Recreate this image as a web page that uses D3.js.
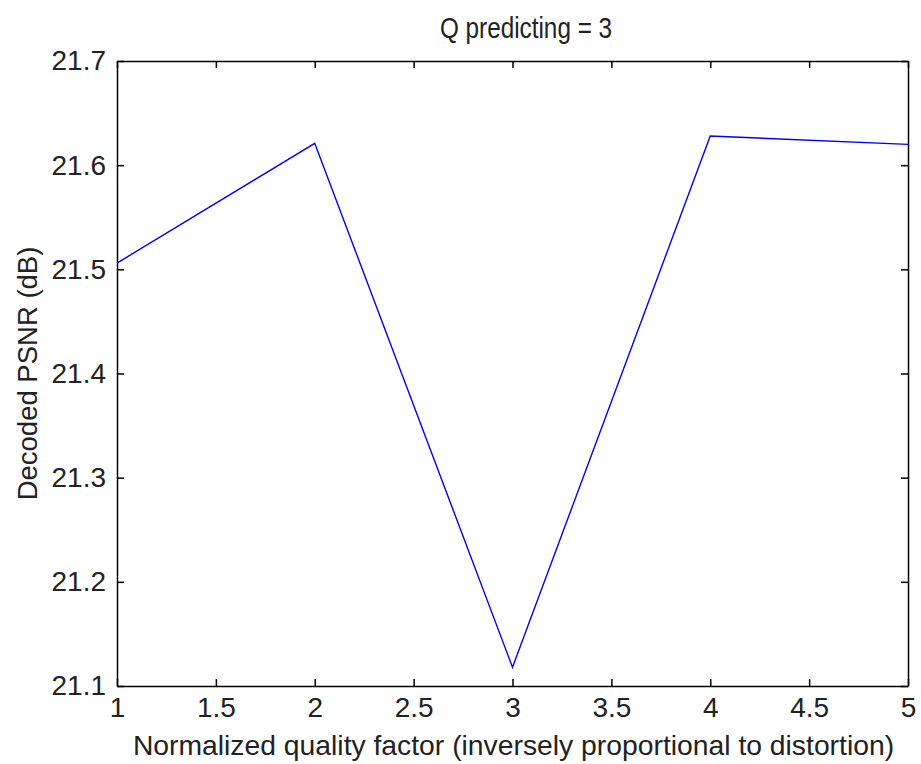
<!DOCTYPE html>
<html><head><meta charset="utf-8">
<script src="https://cdn.jsdelivr.net/npm/d3@7"></script>
<style>body{margin:0;background:#fff;} text{font-family:"Liberation Sans",Arial,sans-serif;}</style>
</head><body>
<svg id="c" width="921" height="764"></svg>
<script>
const xValues = [1, 2, 3, 4, 5];
const psnr = [21.506, 21.621, 21.118, 21.628, 21.620];
const xTicks = [1, 1.5, 2, 2.5, 3, 3.5, 4, 4.5, 5];
const yTicks = [21.1, 21.2, 21.3, 21.4, 21.5, 21.6, 21.7];
const titleText = "Q predicting = 3";
const xLabel = "Normalized quality factor (inversely proportional to distortion)";
const yLabel = "Decoded PSNR (dB)";

const svg = d3.select("#c");
svg.append("rect").attr("width",921).attr("height",764).attr("fill","#fff");
const L=117, R=908, T=61, B=686;
const x = d3.scaleLinear().domain([1,5]).range([L,R]);
const y = d3.scaleLinear().domain([21.1,21.7]).range([B,T]);
const tl = 7;
const fmtY = d => d3.format(".1f")(d);
const fmtX = d => String(d);
const FS = "28px";

const gb = svg.append("g").attr("transform",`translate(0,${B})`)
  .call(d3.axisBottom(x).tickValues(xTicks).tickFormat(fmtX).tickSizeInner(-tl).tickSizeOuter(0).tickPadding(11));
const gt = svg.append("g").attr("transform",`translate(0,${T})`)
  .call(d3.axisTop(x).tickValues(xTicks).tickFormat("").tickSizeInner(-tl).tickSizeOuter(0));
const gl = svg.append("g").attr("transform",`translate(${L},0)`)
  .call(d3.axisLeft(y).tickValues(yTicks).tickFormat(fmtY).tickSizeInner(-tl).tickSizeOuter(0).tickPadding(11));
const gr = svg.append("g").attr("transform",`translate(${R},0)`)
  .call(d3.axisRight(y).tickValues(yTicks).tickFormat("").tickSizeInner(-tl).tickSizeOuter(0));
[gb,gt,gl,gr].forEach(g=>{
  g.selectAll("path").attr("stroke","#000").attr("stroke-width",1.5);
  g.selectAll("line").attr("stroke","#000").attr("stroke-width",1.5);
  g.selectAll("text").attr("fill","#222").style("font-size",FS).style("font-family","'Liberation Sans',Arial,sans-serif");
});

svg.append("path").datum(xValues.map((v,i)=>[v,psnr[i]]))
  .attr("fill","none").attr("stroke","#0000ff").attr("stroke-width",1.4)
  .attr("d", d3.line().x(d=>x(d[0])).y(d=>y(d[1])));

svg.append("text").attr("transform",`translate(526,38) scale(1,1.25)`).attr("text-anchor","middle")
  .attr("fill","#222").style("font-size","24.3px").text(titleText);
svg.append("text").attr("x",(L+R)/2+1).attr("y",755).attr("text-anchor","middle")
  .attr("fill","#222").style("font-size","28.3px").text(xLabel);
svg.append("text").attr("transform",`translate(37,${(T+B)/2}) rotate(-90)`).attr("text-anchor","middle")
  .attr("fill","#222").style("font-size","27.5px").text(yLabel);
</script>
</body></html>
